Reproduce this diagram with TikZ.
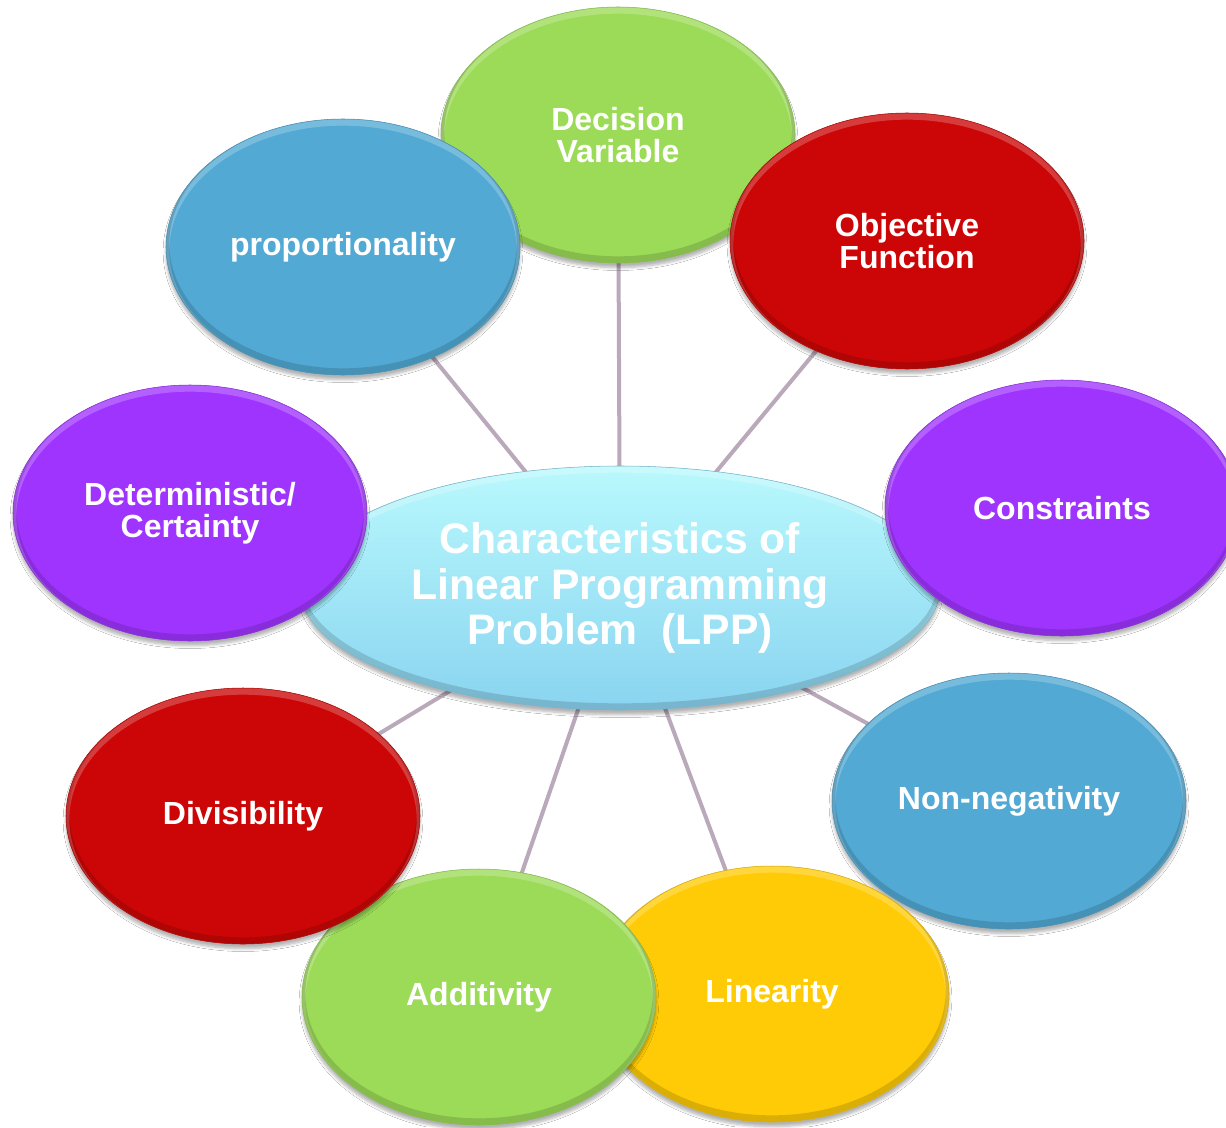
\documentclass[tikz,border=0pt]{standalone}
\usepackage{fontspec}
\setmainfont{Liberation Sans}
\usetikzlibrary{shapes.geometric,shadows.blur,backgrounds}

\definecolor{hubtop}{RGB}{185,249,253}
\definecolor{hubbot}{RGB}{138,212,240}
\definecolor{leafgreen}{RGB}{156,219,88}
\definecolor{leafred}{RGB}{204,6,6}
\definecolor{leafpurple}{RGB}{160,52,255}
\definecolor{leafblue}{RGB}{82,169,212}
\definecolor{leafyellow}{RGB}{255,203,6}
\definecolor{spoke}{RGB}{185,169,186}

\tikzset{
  % soft rim: light along the top edge, darker along the bottom edge
  bevel/.style 2 args={path picture={
    \draw[white, opacity=.22, line width=5pt]
      ([yshift=-2.5pt]path picture bounding box.center) ellipse [x radius=#1, y radius=#2];
    \draw[black, opacity=.14, line width=5pt]
      ([yshift=2.5pt]path picture bounding box.center) ellipse [x radius=#1, y radius=#2];
  }},
  softshadow/.style={blur shadow={shadow xshift=0pt, shadow yshift=-3.5pt,
      shadow opacity=30, shadow blur steps=6}},
  bubble/.style={ellipse, inner sep=0pt,
    minimum width=265.5pt, minimum height=192pt,
    fill=#1, draw=#1!85!black, line width=0.4pt,
    text=white, align=center,
    font=\bfseries\fontsize{24}{24}\selectfont,
    softshadow, bevel={132.75pt}{96pt}},
  hub/.style={ellipse, inner sep=0pt,
    minimum width=480pt, minimum height=183pt,
    top color=hubtop, bottom color=hubbot, draw=hubbot!85!black,
    line width=0.4pt,
    text=white, align=center,
    font=\bfseries\fontsize{32}{34}\selectfont,
    softshadow, bevel={240pt}{91.5pt}},
  link/.style={spoke, line width=3pt}
}

\begin{document}
\begin{tikzpicture}[x=0.75pt,y=-0.75pt]
  \clip (0,0) rectangle (1226,1127);

  % central hub
  \node[hub] (hub) at (620,588) {Characteristics of\\Linear Programming\\Problem~~(LPP)};

  % surrounding characteristics, clockwise from the top
  \node[bubble=leafgreen]  (dv)   at (618,135)  {Decision\\Variable};
  \node[bubble=leafred]    (obj)  at (907,241)  {Objective\\Function};
  \node[bubble=leafpurple] (con)  at (1062,508) {Constraints};
  \node[bubble=leafblue]   (nn)   at (1009,801) {Non-negativity};
  \node[bubble=leafyellow] (lin)  at (772,994)  {Linearity};
  \node[bubble=leafgreen]  (add)  at (479,997)  {Additivity};
  \node[bubble=leafred]    (div)  at (243,816)  {Divisibility};
  \node[bubble=leafpurple] (det)  at (190,513)  {Deterministic/\\Certainty};
  \node[bubble=leafblue]   (prop) at (343,247)  {proportionality};

  % white page and spokes from the hub to each characteristic
  \begin{scope}[on background layer]
    \fill[white] (0,0) rectangle (1226,1127);
    \foreach \n in {dv,obj,nn,lin,add,div,prop}
      \draw[link] (hub.center) -- (\n.center);
  \end{scope}
\end{tikzpicture}
\end{document}
